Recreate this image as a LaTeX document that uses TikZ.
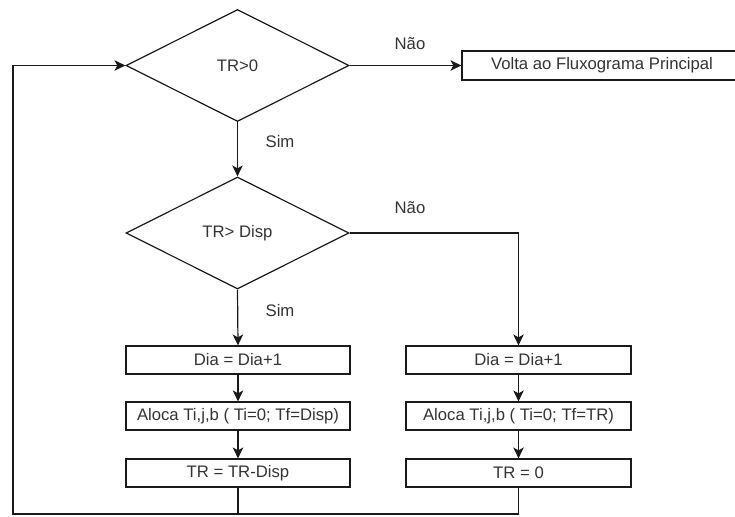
\documentclass[tikz,border=0pt]{standalone}
\usepackage{fontspec}
\setmainfont{Liberation Sans}
\usetikzlibrary{shapes.geometric,arrows.meta}
\definecolor{txt}{HTML}{333333}
\definecolor{ln}{HTML}{1A1A1A}
\begin{document}
\begin{tikzpicture}[x=1pt,y=-1pt,
  every node/.style={font=\fontsize{16.7}{20}\selectfont, text=txt},
  dec/.style={diamond, draw=ln, line width=1.2pt, minimum width=223pt, minimum height=112pt, inner sep=0pt, aspect=2},
  procbox/.style={rectangle, draw=ln, line width=1.2pt, minimum width=224pt, minimum height=28pt, inner sep=0pt},
  conn/.style={draw=ln, line width=1.2pt},
  arr/.style={conn, -{Stealth[length=11pt,width=10.5pt,inset=3pt]}},
  lbl/.style={inner sep=1pt}]
\useasboundingbox (0,0) rectangle (735,516);
\node[dec] (d1) at (237.5,65.5) {TR>0};
\node[procbox, minimum width=320pt, minimum height=29pt] (ret) at (622,65.5) {};
\node (rettxt) at (602,65.5) {Volta ao Fluxograma Principal};
\node[dec] (d2) at (237.5,233) {TR> Disp};
\node[procbox] (l1) at (238,360) {Dia = Dia+1};
\node[procbox] (l2) at (238,416) {Aloca Ti,j,b ( Ti=0; Tf=Disp)};
\node[procbox] (l3) at (238,473) {TR = TR-Disp};
\node[procbox, minimum width=225pt] (r1) at (518.5,360) {Dia = Dia+1};
\node[procbox, minimum width=225pt] (r2) at (518.5,416) {Aloca Ti,j,b ( Ti=0; Tf=TR)};
\node[procbox, minimum width=225pt] (r3) at (518.5,473) {TR = 0};
\node[lbl] (n1) at (410,44) {Não};
\node[lbl] (s1) at (280,142) {Sim};
\node[lbl] (n2) at (410,208) {Não};
\node[lbl] (s2) at (280,311) {Sim};
\coordinate (lc) at (13,514);
\draw[arr] (d1.east) -- (ret.west);
\draw[arr] (d1.south) -- (d2.north);
\draw[arr] (d2.south) -- (l1.north);
\draw[arr] (d2.east) -| (r1.north);
\draw[arr] (l1.south) -- (l2.north);
\draw[arr] (l2.south) -- (l3.north);
\draw[arr] (r1.south) -- (r2.north);
\draw[arr] (r2.south) -- (r3.north);
\draw[arr] (l3.south) |- (lc) |- (d1.west);
\draw[conn] (r3.south) |- (l3.south |- lc);
\end{tikzpicture}
\end{document}
